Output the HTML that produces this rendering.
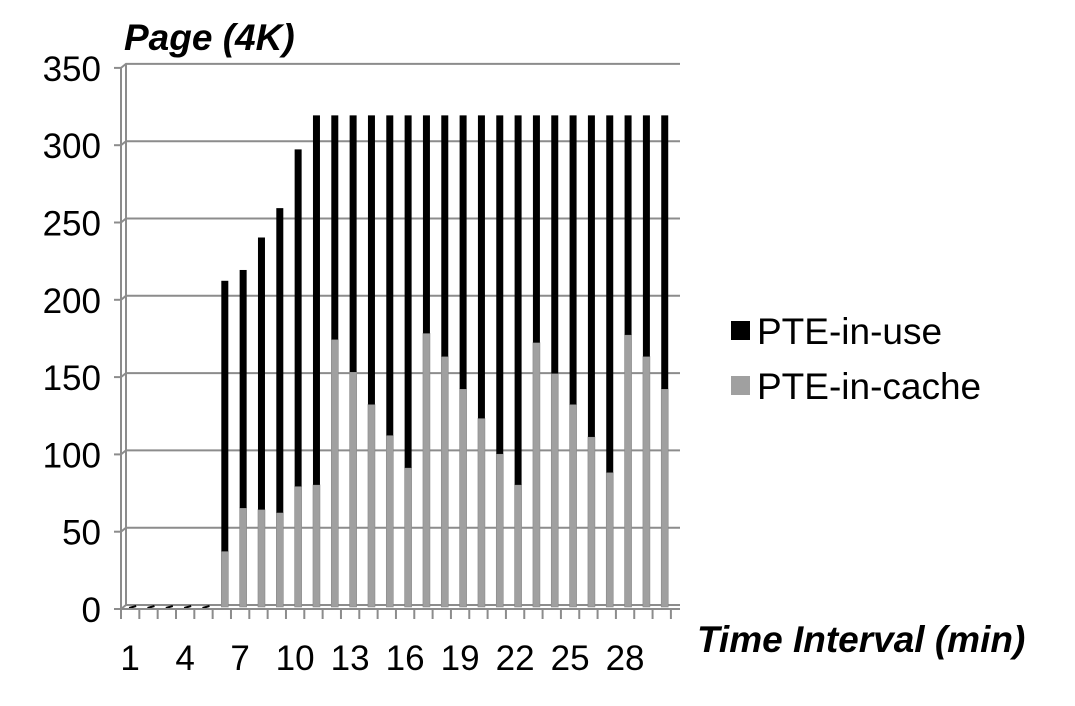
<!DOCTYPE html>
<html><head><meta charset="utf-8"><style>
body{margin:0;background:#fff;}
svg{font-family:"Liberation Sans",Arial,sans-serif;}
</style></head><body>
<svg width="1075" height="701" xmlns="http://www.w3.org/2000/svg">
<g id="grid"></g><g id="bars"></g><g id="axes"></g>
<text x="124" y="50" font-size="37" font-weight="bold" font-style="italic">Page (4K)</text>
<text x="697" y="652" font-size="37" font-weight="bold" font-style="italic">Time Interval (min)</text>
<g>
<rect x="731" y="321" width="19" height="19" fill="#000"/>
<text x="757" y="344" font-size="37">PTE-in-use</text>
<rect x="731" y="376" width="19" height="19" fill="#a0a0a0"/>
<text x="757" y="399" font-size="37">PTE-in-cache</text>
</g>
</svg>
<script>
const categories=[1,2,3,4,5,6,7,8,9,10,11,12,13,14,15,16,17,18,19,20,21,22,23,24,25,26,27,28,29,30];
const totals=[0,0,0,0,0,211,218,239,258,296,318,318,318,318,318,318,318,318,318,318,318,318,318,318,318,318,318,318,318,318];
const inCache=[0,0,0,0,0,36,64,63,61,78,79,173,152,131,111,90,177,162,141,122,99,79,171,151,131,110,87,176,162,141];
const yTicks=[0,50,100,150,200,250,300,350];
const xTickLabels=[1,4,7,10,13,16,19,22,25,28];
const NS="http://www.w3.org/2000/svg";
const X0=121,CW=18.33,DX=5,DY=4;
const yFront=v=>609-v*77.3/50;
const yBack=v=>yFront(v)-DY;
const xCat=i=>X0+i*CW;
function mk(tag,attrs,parent){const e=document.createElementNS(NS,tag);for(const k in attrs)e.setAttribute(k,attrs[k]);document.getElementById(parent).appendChild(e);return e;}
yTicks.forEach(v=>{
 const p=mk('polyline',{points:`${X0},${yFront(v)} ${X0+DX},${yBack(v)} 680,${yBack(v)}`,fill:'none',stroke:'#8c8c8c','stroke-width':2},'grid');
 
 
 const t=mk('text',{x:101,y:yFront(v)+13,'font-size':35,'text-anchor':'end'},'axes');
 t.textContent=v;
 
 
 const tk=mk('line',{x1:X0-7,y1:yFront(v),x2:X0,y2:yFront(v),stroke:'#8c8c8c','stroke-width':2},'axes');
 
 
});
const yax=mk('line',{x1:X0,y1:yFront(0),x2:X0,y2:yFront(350),stroke:'#8c8c8c','stroke-width':2},'axes');


const bw=mk('line',{x1:X0+DX,y1:yBack(0),x2:X0+DX,y2:yBack(350),stroke:'#8c8c8c','stroke-width':2},'grid');


const xax=mk('line',{x1:X0,y1:yFront(0),x2:680,y2:yFront(0),stroke:'#8c8c8c','stroke-width':2},'axes');


for(let i=0;i<=categories.length;i++){
 const tk=mk('line',{x1:xCat(i),y1:yFront(0),x2:xCat(i),y2:yFront(0)+10,stroke:'#8c8c8c','stroke-width':2},'axes');
 
 
}
categories.forEach((c,i)=>{
 if(xTickLabels.indexOf(c)>=0){
  const t=mk('text',{x:xCat(i)+CW/2,y:670,'font-size':35,'text-anchor':'middle'},'axes');
  t.textContent=c;
  
  
 }
 const cx=xCat(i)+CW/2+3, w=7, base=yFront(0)-2;
 const sc=77.3/50;
 if(totals[i]===0){
  const d=mk('line',{x1:cx-4,y1:base+1,x2:cx+3,y2:base-1,stroke:'#000','stroke-width':2},'bars');
  
  
  return;
 }
 const use=totals[i]-inCache[i];
 const r1=mk('rect',{x:cx-w/2,y:base-inCache[i]*sc,width:w,height:inCache[i]*sc,fill:'#a0a0a0',stroke:'#888','stroke-width':0.6},'bars');
 
 
 const r2=mk('rect',{x:cx-w/2,y:base-totals[i]*sc,width:w,height:use*sc,fill:'#000'},'bars');
 
 
});
</script>
</body></html>
